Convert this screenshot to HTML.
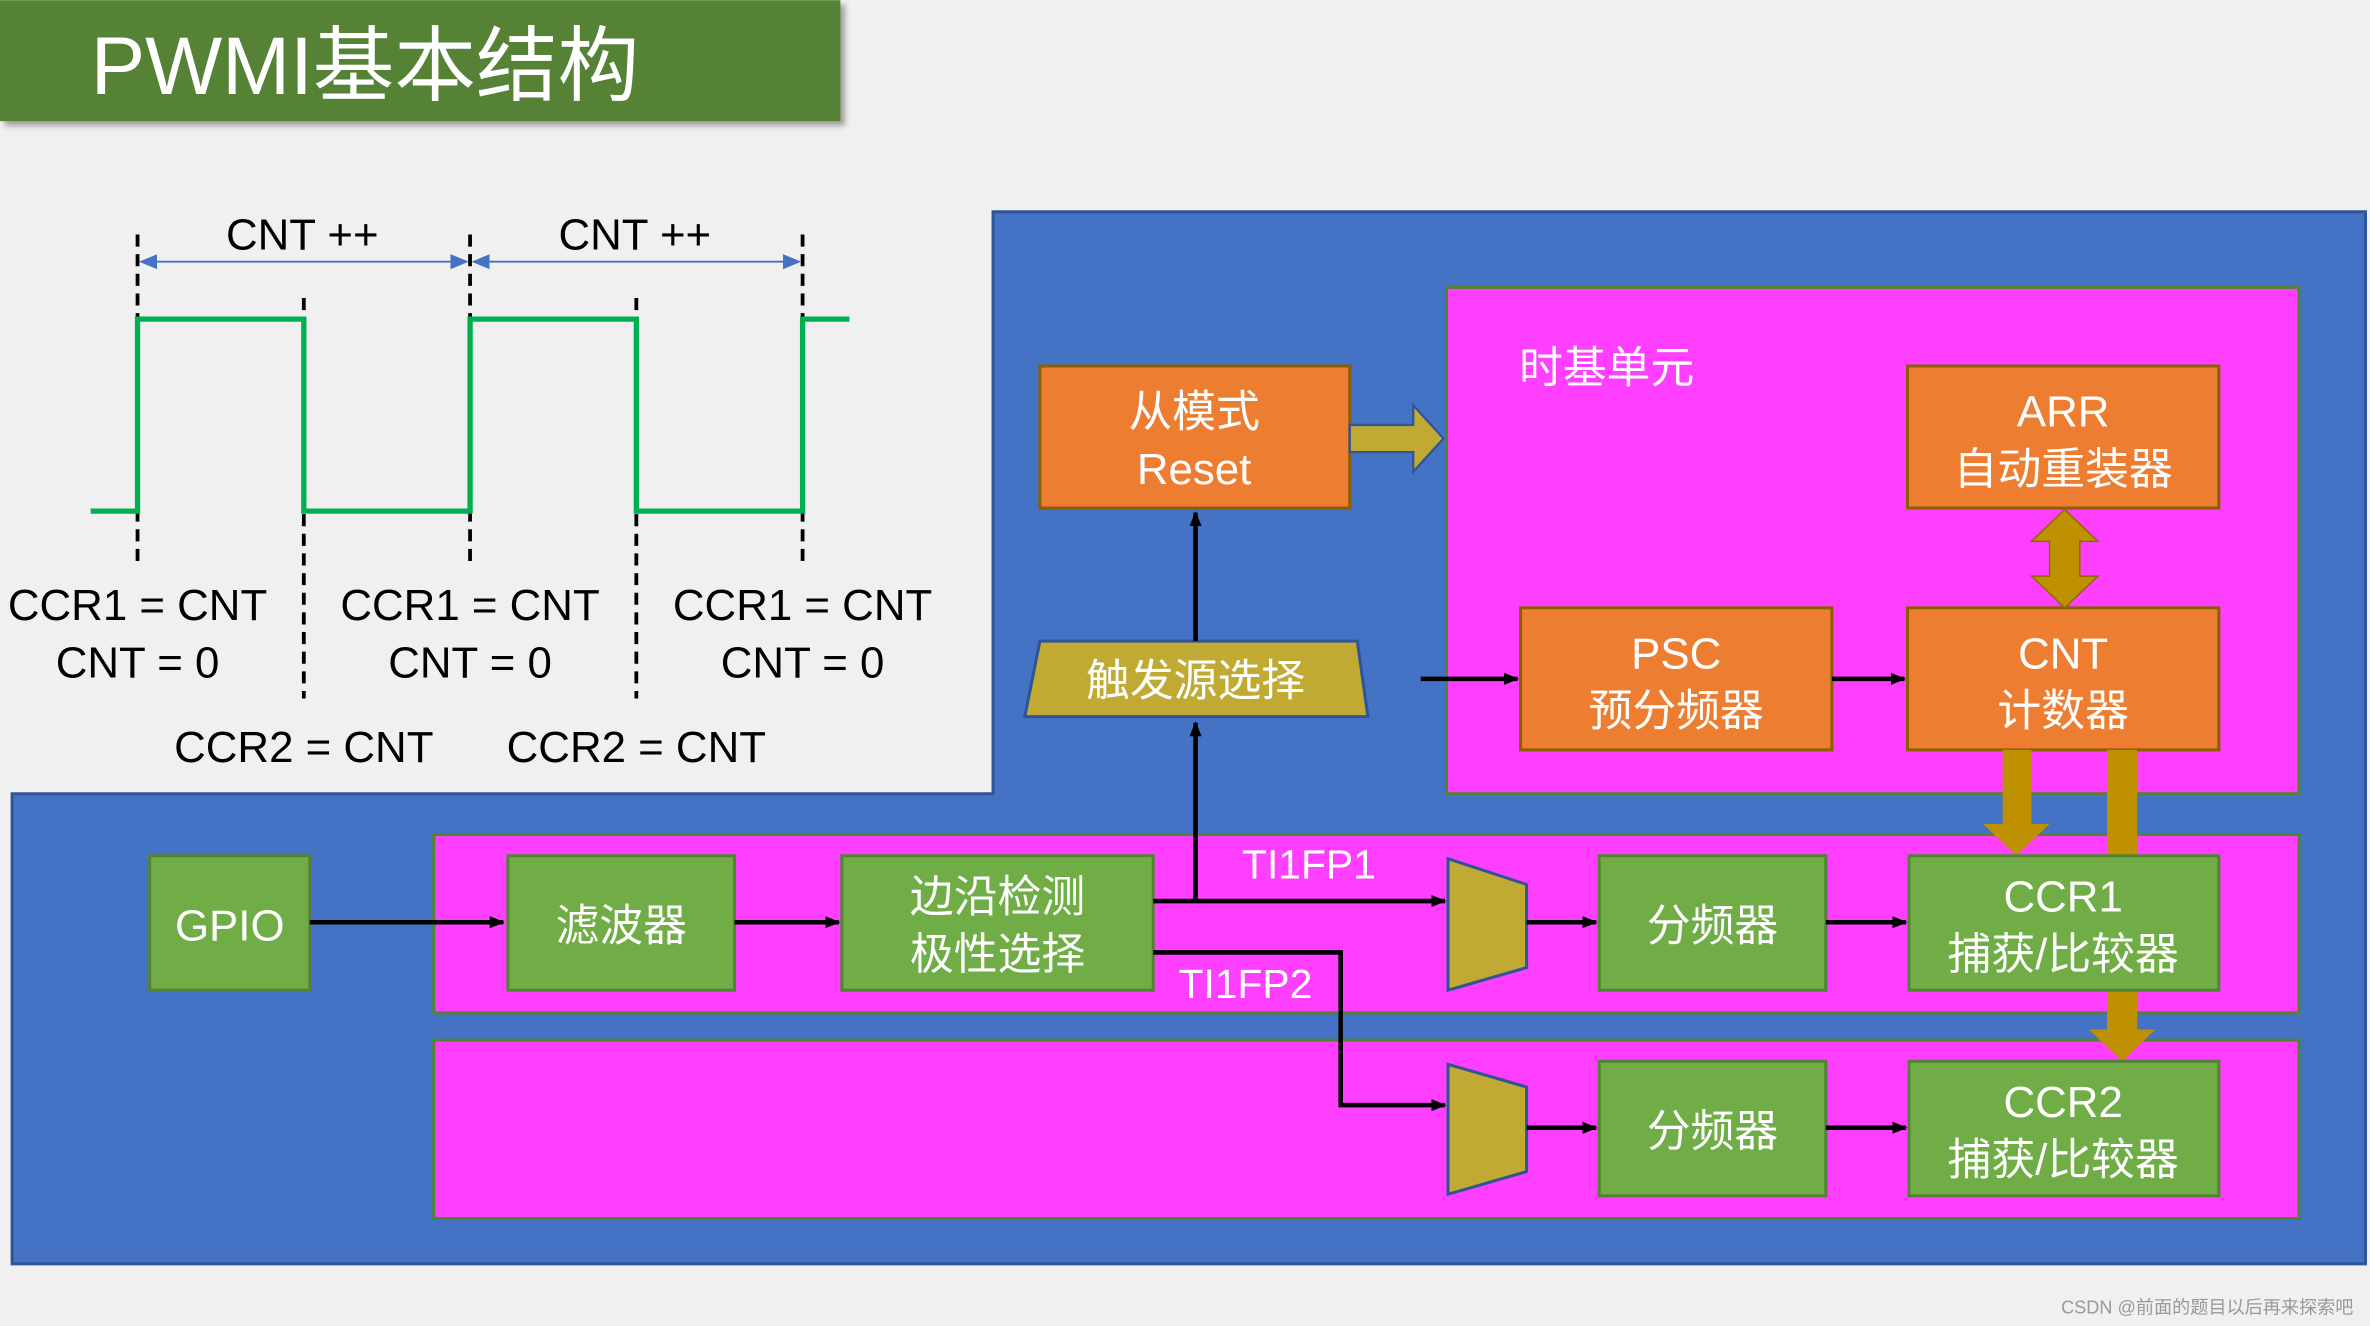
<!DOCTYPE html>
<html><head><meta charset="utf-8"><style>
html,body{margin:0;padding:0;background:#f0f0f0;}
svg{display:block;}
text{font-family:"Liberation Sans","Noto Sans CJK SC",sans-serif;}
</style></head><body>
<svg width="2370" height="1326" viewBox="0 0 1568 877" xmlns="http://www.w3.org/2000/svg">
<defs>
<marker id="ab" markerWidth="10" markerHeight="8" refX="9" refY="4" orient="auto" markerUnits="userSpaceOnUse"><path d="M0,0L10,4L0,8z" fill="#000"/></marker>
<marker id="abl" markerWidth="12" markerHeight="10" refX="11" refY="5" orient="auto-start-reverse" markerUnits="userSpaceOnUse"><path d="M0,0L12,5L0,10z" fill="#4472c4"/></marker>
<filter id="sh"><feDropShadow dx="3" dy="3" stdDeviation="2" flood-color="#000" flood-opacity="0.35"/></filter>
</defs>
<rect width="1568" height="877" fill="#f0f0f0"/>
<!-- title -->
<rect x="0" y="0" width="556" height="80" fill="#548235" filter="url(#sh)"/>
<text x="60" y="62" font-size="54" fill="#fff">PWMI基本结构</text>
<!-- blue region -->
<path d="M657,140H1565V836H8V525H657Z" fill="#4472c4" stroke="#2f5597" stroke-width="2"/>
<!-- time base -->
<rect x="957" y="190" width="564" height="335" fill="#ff3fff" stroke="#548235" stroke-width="2"/>
<text x="1005" y="253" font-size="29" fill="#fff">时基单元</text>
<!-- rows -->
<rect x="287" y="552" width="1234" height="118" fill="#ff3fff" stroke="#548235" stroke-width="2"/>
<rect x="287" y="688" width="1234" height="118" fill="#ff3fff" stroke="#548235" stroke-width="2"/>
<g font-size="29" fill="#fff" text-anchor="middle">
<!-- orange boxes -->
<rect x="688" y="242" width="205" height="94" fill="#ed7d31" stroke="#8b5e00" stroke-width="2"/>
<text x="790" y="282">从模式</text><text x="790" y="320">Reset</text>
<rect x="1262" y="242" width="206" height="94" fill="#ed7d31" stroke="#8b5e00" stroke-width="2"/>
<text x="1365" y="282">ARR</text><text x="1365" y="320">自动重装器</text>
<rect x="1006" y="402" width="206" height="94" fill="#ed7d31" stroke="#8b5e00" stroke-width="2"/>
<text x="1109" y="442">PSC</text><text x="1109" y="480">预分频器</text>
<rect x="1262" y="402" width="206" height="94" fill="#ed7d31" stroke="#8b5e00" stroke-width="2"/>
<text x="1365" y="442">CNT</text><text x="1365" y="480">计数器</text>
<!-- gold arrows -->
<path d="M893,281H935V268L955,290L935,312V299H893Z" fill="#c0aa33" stroke="#2f5597" stroke-width="1.5"/>
<path d="M1366,337L1388,358H1376V381H1388L1366,402L1344,381H1356V358H1344Z" fill="#bf9000" stroke="#8b6a00" stroke-width="1"/>
<path d="M1325,496H1344V545H1356L1334,566L1312,545H1325Z" fill="#bf9000"/>
<path d="M1394,496H1414V681H1426L1404,702L1382,681H1394Z" fill="#bf9000"/>
<!-- trigger -->
<path d="M688,424H898L905,474H678Z" fill="#c0aa33" stroke="#2f5597" stroke-width="2"/>
<text x="791" y="460">触发源选择</text>
<!-- green boxes -->
<rect x="99" y="566" width="106" height="89" fill="#70ad47" stroke="#548235" stroke-width="2"/>
<text x="152" y="622">GPIO</text>
<rect x="336" y="566" width="150" height="89" fill="#70ad47" stroke="#548235" stroke-width="2"/>
<text x="411" y="622">滤波器</text>
<rect x="557" y="566" width="206" height="89" fill="#70ad47" stroke="#548235" stroke-width="2"/>
<text x="660" y="603">边沿检测</text><text x="660" y="641">极性选择</text>
<rect x="1058" y="566" width="150" height="89" fill="#70ad47" stroke="#548235" stroke-width="2"/>
<text x="1133" y="622">分频器</text>
<rect x="1058" y="702" width="150" height="89" fill="#70ad47" stroke="#548235" stroke-width="2"/>
<text x="1133" y="758">分频器</text>
<rect x="1263" y="566" width="205" height="89" fill="#70ad47" stroke="#548235" stroke-width="2"/>
<text x="1365" y="603">CCR1</text><text x="1365" y="641">捕获/比较器</text>
<rect x="1263" y="702" width="205" height="89" fill="#70ad47" stroke="#548235" stroke-width="2"/>
<text x="1365" y="739">CCR2</text><text x="1365" y="777">捕获/比较器</text>
<!-- muxes -->
<path d="M958,568L1010,585V640L958,655Z" fill="#c0aa33" stroke="#2f5597" stroke-width="2"/>
<path d="M958,704L1010,719V775L958,790Z" fill="#c0aa33" stroke="#2f5597" stroke-width="2"/>
<text x="866" y="581" font-size="27">TI1FP1</text>
<text x="824" y="660" font-size="27">TI1FP2</text>
</g>
<!-- black arrows -->
<g stroke="#000" stroke-width="3" fill="none">
<path d="M791,595V478" marker-end="url(#ab)"/>
<path d="M791,424V339" marker-end="url(#ab)"/>
<path d="M940,449H1004" marker-end="url(#ab)"/>
<path d="M1212,449H1260" marker-end="url(#ab)"/>
<path d="M205,610H333" marker-end="url(#ab)"/>
<path d="M486,610H555" marker-end="url(#ab)"/>
<path d="M763,596H956" marker-end="url(#ab)"/>
<path d="M763,630H887V731H956" marker-end="url(#ab)"/>
<path d="M1010,610H1056" marker-end="url(#ab)"/>
<path d="M1010,746H1056" marker-end="url(#ab)"/>
<path d="M1208,610H1261" marker-end="url(#ab)"/>
<path d="M1208,746H1261" marker-end="url(#ab)"/>
</g>
<!-- waveform -->
<g stroke="#000" stroke-width="2.5" stroke-dasharray="8,5">
<path d="M91,155V372M311,155V372M531,155V372M201,197V462M421,197V462"/>
</g>
<path d="M60,338H91V211H201V338H311V211H421V338H531V211H562" fill="none" stroke="#00b050" stroke-width="3.5"/>
<g stroke="#4472c4" stroke-width="1.2">
<path d="M93,173H309" marker-start="url(#abl)" marker-end="url(#abl)"/>
<path d="M313,173H529" marker-start="url(#abl)" marker-end="url(#abl)"/>
</g>
<g font-size="29" fill="#000" text-anchor="middle">
<text x="200" y="165">CNT ++</text><text x="420" y="165">CNT ++</text>
<text x="91" y="410">CCR1 = CNT</text><text x="91" y="448">CNT = 0</text>
<text x="311" y="410">CCR1 = CNT</text><text x="311" y="448">CNT = 0</text>
<text x="531" y="410">CCR1 = CNT</text><text x="531" y="448">CNT = 0</text>
<text x="201" y="504">CCR2 = CNT</text><text x="421" y="504">CCR2 = CNT</text>
</g>
<text x="1557" y="869" font-size="12" fill="#999" text-anchor="end">CSDN @前面的题目以后再来探索吧</text>
</svg>
</body></html>
